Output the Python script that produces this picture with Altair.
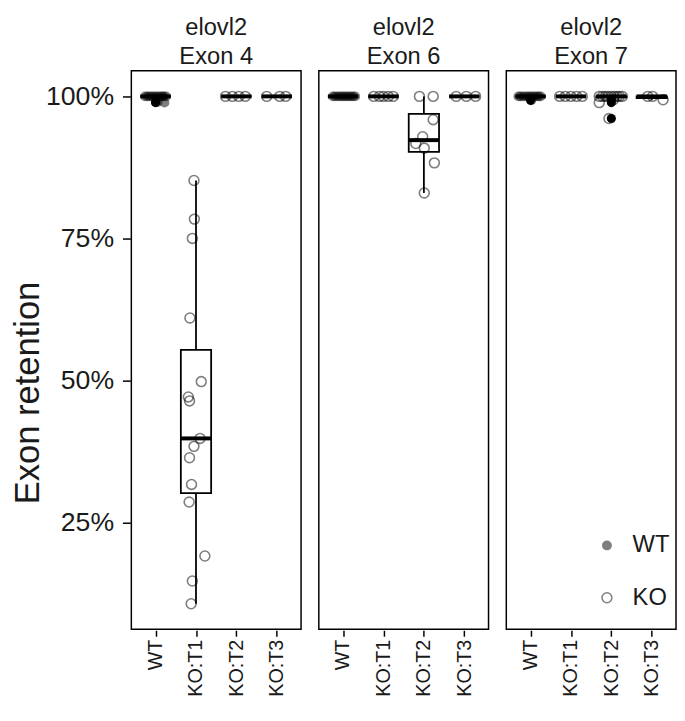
import altair as alt
import pandas as pd

groups = ["WT", "KO:T1", "KO:T2", "KO:T3"]
exons = ["Exon 4", "Exon 6", "Exon 7"]

# Exon 4
e4_wt_val = [100, 100, 100, 100, 100, 100, 100, 100, 100, 100, 99.0, 98.9]
e4_wt_jit = [-0.26, -0.2, -0.14, -0.08, -0.02, 0.04, 0.1, 0.16, 0.2, 0.26, 0.05, 0.22]
e4_t1_val = [85.2, 78.4, 75.0, 61.0, 49.8, 47.1, 46.4, 39.8, 38.4, 36.4, 31.7, 28.6, 19.1, 14.7, 10.7]
e4_t1_jit = [-0.05, -0.04, -0.09, -0.15, 0.13, -0.19, -0.16, 0.10, -0.05, -0.16, -0.11, -0.17, 0.22, -0.09, -0.12]
e4_t2_val = [100, 100, 100, 100]
e4_t2_jit = [-0.27, -0.1, 0.06, 0.22]
e4_t3_val = [100, 100, 100]
e4_t3_jit = [-0.25, 0.07, 0.22]

# Exon 6
e6_wt_val = [100, 100, 100, 100, 100, 100, 100, 100, 100, 100]
e6_wt_jit = [-0.25, -0.19, -0.12, -0.06, 0.0, 0.06, 0.12, 0.18, 0.24, 0.3]
e6_t1_val = [100, 100, 100, 100, 100]
e6_t1_jit = [-0.24, -0.1, 0.0, 0.12, 0.24]
e6_t2_val = [100, 100, 95.9, 92.9, 91.7, 90.9, 88.3, 83.0]
e6_t2_jit = [-0.11, 0.23, 0.23, -0.03, -0.2, 0.01, 0.26, 0.01]
e6_t3_val = [100, 100, 100]
e6_t3_jit = [-0.2, 0.05, 0.28]

# Exon 7
e7_wt_val = [100, 100, 100, 100, 100, 100, 100, 100, 100, 100, 99.3]
e7_wt_jit = [-0.3, -0.24, -0.17, -0.1, -0.04, 0.02, 0.08, 0.14, 0.2, 0.25, 0.02]
e7_t1_val = [100, 100, 100, 100, 100]
e7_t1_jit = [-0.28, -0.14, 0.0, 0.14, 0.28]
e7_t2_val = [100, 100, 100, 100, 100, 100, 100, 100, 100, 99.4, 98.9, 96.1]
e7_t2_jit = [-0.3, -0.22, -0.15, -0.08, 0.0, 0.07, 0.14, 0.2, 0.27, 0.05, -0.3, -0.06]
e7_t3_val = [100, 100, 99.4]
e7_t3_jit = [-0.1, 0.02, 0.28]

series = {
    ("Exon 4", "WT"): (e4_wt_val, e4_wt_jit),
    ("Exon 4", "KO:T1"): (e4_t1_val, e4_t1_jit),
    ("Exon 4", "KO:T2"): (e4_t2_val, e4_t2_jit),
    ("Exon 4", "KO:T3"): (e4_t3_val, e4_t3_jit),
    ("Exon 6", "WT"): (e6_wt_val, e6_wt_jit),
    ("Exon 6", "KO:T1"): (e6_t1_val, e6_t1_jit),
    ("Exon 6", "KO:T2"): (e6_t2_val, e6_t2_jit),
    ("Exon 6", "KO:T3"): (e6_t3_val, e6_t3_jit),
    ("Exon 7", "WT"): (e7_wt_val, e7_wt_jit),
    ("Exon 7", "KO:T1"): (e7_t1_val, e7_t1_jit),
    ("Exon 7", "KO:T2"): (e7_t2_val, e7_t2_jit),
    ("Exon 7", "KO:T3"): (e7_t3_val, e7_t3_jit),
}

rows = []
for (ex, g), (vals, jits) in series.items():
    for v, j in zip(vals, jits):
        rows.append(dict(exon=ex, group=g, idx=groups.index(g), value=v, jit=j,
                         genotype="WT" if g == "WT" else "KO"))
df = pd.DataFrame(rows)

FONT = "Liberation Sans"
xs = alt.Scale(domain=[-0.6, 3.6], nice=False, zero=False)
ys = alt.Scale(domain=[6.2, 104.5], nice=False, zero=False)
label_expr = "[" + ",".join("'%s'" % g for g in groups) + "][datum.value]"
x_axis = alt.Axis(values=list(range(len(groups))), labelExpr=label_expr, title=None,
                  grid=False, domain=False, labelAngle=270, labelFontSize=20,
                  labelPadding=3, tickSize=6, tickWidth=1.5, tickColor="black",
                  labelColor="#1a1a1a", labelFont=FONT)
y_axis = alt.Axis(values=[25, 50, 75, 100], labelExpr="datum.value + '%'",
                  title="Exon retention", grid=False, domain=False, labelFontSize=27,
                  labelPadding=9, tickSize=8, tickWidth=1.5, tickColor="black",
                  labelColor="#1a1a1a", labelFont=FONT, titleFontSize=35,
                  titleFontWeight="normal", titleColor="#1a1a1a", titleFont=FONT,
                  titlePadding=0, titleY=326)

base = alt.Chart()

whisk = base.transform_joinaggregate(
    q1="q1(value)", q3="q3(value)", groupby=["exon", "idx"]
).transform_calculate(
    lo="datum.q1 - 1.5*(datum.q3-datum.q1)",
    hi="datum.q3 + 1.5*(datum.q3-datum.q1)",
).transform_calculate(
    inval="(datum.value >= datum.lo && datum.value <= datum.hi) ? datum.value : null"
).transform_aggregate(
    wlo="min(inval)", whi="max(inval)", groupby=["exon", "idx"]
).mark_rule(color="black", strokeWidth=1.8).encode(
    x=alt.X("idx:Q", scale=xs, axis=x_axis),
    y=alt.Y("wlo:Q", scale=ys, axis=y_axis),
    y2="whi:Q",
)

stats = base.transform_aggregate(
    q1="q1(value)", q3="q3(value)", med="median(value)", groupby=["exon", "idx"]
).transform_calculate(xl="datum.idx - 0.375", xr="datum.idx + 0.375")

box = stats.mark_rect(fill="white", stroke="black", strokeWidth=1.8).encode(
    x=alt.X("xl:Q", scale=xs, axis=x_axis), x2="xr:Q",
    y=alt.Y("q1:Q", scale=ys, axis=y_axis), y2="q3:Q",
)
med = stats.mark_rule(color="black", strokeWidth=4).encode(
    x=alt.X("xl:Q", scale=xs, axis=x_axis), x2="xr:Q",
    y=alt.Y("med:Q", scale=ys, axis=y_axis),
)

outl = base.transform_joinaggregate(
    q1="q1(value)", q3="q3(value)", groupby=["exon", "idx"]
).transform_calculate(
    lo="datum.q1 - 1.5*(datum.q3-datum.q1)",
    hi="datum.q3 + 1.5*(datum.q3-datum.q1)",
).transform_filter(
    "datum.value < datum.lo || datum.value > datum.hi"
).mark_circle(color="black", size=85, opacity=1).encode(
    x=alt.X("idx:Q", scale=xs, axis=x_axis),
    y=alt.Y("value:Q", scale=ys, axis=y_axis),
)

leg = alt.Legend(title=None, orient="none", legendX=470, legendY=469,
                 labelFontSize=24, labelFont=FONT, labelColor="#1a1a1a",
                 symbolSize=100, symbolStrokeWidth=1.5, rowPadding=29,
                 labelOffset=14, padding=0)
pts = base.transform_calculate(xj="datum.idx + datum.jit").mark_point(
    shape="circle", size=100, strokeWidth=1.6, opacity=0.5
).encode(
    x=alt.X("xj:Q", scale=xs, axis=x_axis),
    y=alt.Y("value:Q", scale=ys, axis=y_axis),
    fill=alt.Fill("genotype:N", scale=alt.Scale(domain=["WT", "KO"], range=["black", "transparent"]), legend=leg),
    stroke=alt.Stroke("genotype:N", scale=alt.Scale(domain=["WT", "KO"], range=["transparent", "black"]), legend=leg),
)

layered = alt.layer(whisk, box, med, outl, pts, data=df).properties(width=172, height=566)

chart = layered.facet(
    column=alt.Column("exon:N", sort=exons,
                      header=alt.Header(title=None, labelExpr="['elovl2', datum.value]",
                                        labelFontSize=24, labelFont=FONT, labelColor="#1a1a1a",
                                        labelPadding=1, labelLineHeight=29,
                                        labelBaseline="top")),
    spacing=16,
).properties(
    padding={"left": 2, "top": 4, "right": 0, "bottom": 0}
).configure(font=FONT).configure_view(stroke="black", strokeWidth=1.5)

chart.save("out.html", embed_options={"renderer": "svg", "actions": False})
